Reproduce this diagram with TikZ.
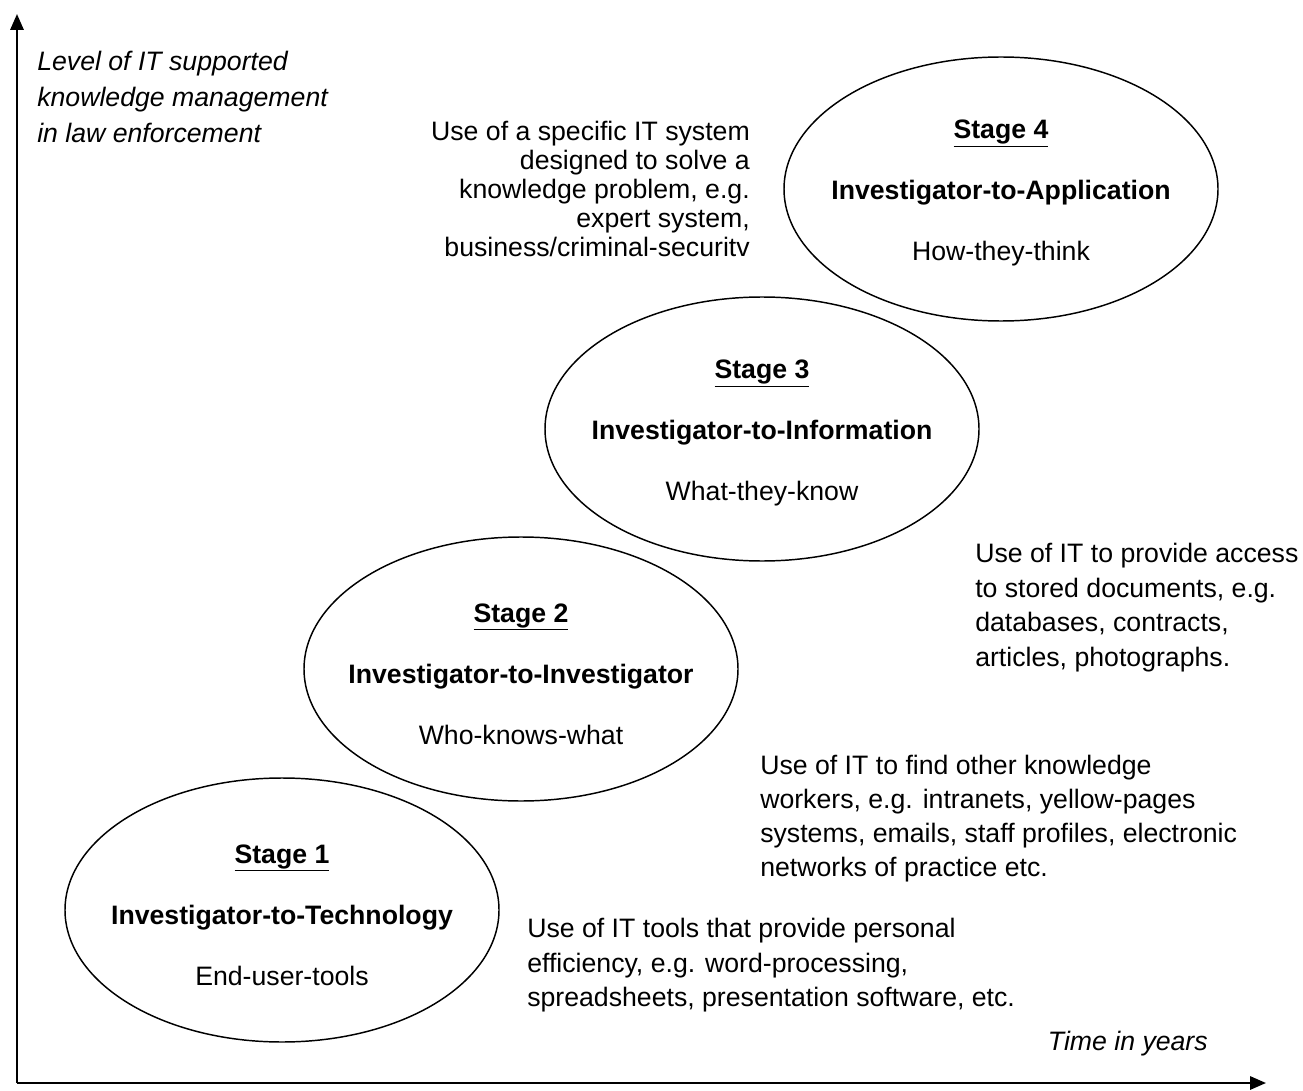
\documentclass[tikz,border=0pt]{standalone}
\usepackage{fontspec}
\setmainfont{Liberation Sans}
\usetikzlibrary{arrows.meta,shapes.geometric}
\tikzset{
  axis/.style={line width=1.6pt,-{Triangle[length=12pt,width=10pt]}},
  stagebox/.style={draw,ellipse,line width=1.1pt,minimum width=325.5pt,minimum height=198pt,inner sep=0pt},
  stagetext/.style={inner sep=0pt,align=center,font=\fontsize{20pt}{45.75pt}\selectfont},
  desc/.style={inner sep=0pt,font=\fontsize{20pt}{25.5pt}\selectfont},
  axlabel/.style={inner sep=0pt,font=\fontsize{20pt}{27pt}\selectfont\itshape}
}
\begin{document}
\begin{tikzpicture}[x=0.75pt,y=-0.75pt]
\useasboundingbox (0,0) rectangle (1303,1091);
\coordinate (O) at (17,1083);
\coordinate (ytop) at (17,14);
\coordinate (xend) at (1266,1083);
\draw[axis] (O) -- (ytop);
\draw[axis] (O) -- (xend);

\node[axlabel,anchor=north west,align=left] (ylab) at (37,51) {Level of IT supported\\knowledge management\\in law enforcement};
\node[axlabel,anchor=north east] (xlab) at (1208,1031) {Time in years};

\node[stagebox] (s1) at (282,910) {};
\node[stagebox] (s2) at (521,669) {};
\node[stagebox] (s3) at (762,429) {};
\node[stagebox] (s4) at (1001,189) {};
\node[stagetext] (t1) at (282,915) {\textbf{\underline{Stage 1}}\\\textbf{Investigator-to-Technology}\\End-user-tools};
\node[stagetext] (t2) at (521,674) {\textbf{\underline{Stage 2}}\\\textbf{Investigator-to-Investigator}\\Who-knows-what};
\node[stagetext] (t3) at (762,433) {\textbf{\underline{Stage 3}}\\\textbf{Investigator-to-Information}\\What-they-know};
\node[stagetext] (t4) at (1001,193) {\textbf{\underline{Stage 4}}\\\textbf{Investigator-to-Application}\\How-they-think};

\node[desc,anchor=north east,align=right,font=\fontsize{20pt}{21.75pt}\selectfont] (d4) at (750,121)
  {Use of a specific IT system\\designed to solve a\\knowledge problem, e.g.\\expert system,\\business/criminal-securitv};
\node[desc,anchor=north west,align=left,font=\fontsize{20pt}{26pt}\selectfont] (d3) at (975,543)
  {Use of IT to provide access\\to stored documents, e.g.\\databases, contracts,\\articles, photographs.};
\node[desc,anchor=north west,align=left] (d2) at (760,755)
  {Use of IT to find other knowledge\\workers, e.g. intranets, yellow-pages\\systems, emails, staff profiles, electronic\\networks of practice etc.};
\node[desc,anchor=north west,align=left,font=\fontsize{20pt}{26pt}\selectfont] (d1) at (527,918)
  {Use of IT tools that provide personal\\efficiency, e.g. word-processing,\\spreadsheets, presentation software, etc.};
\end{tikzpicture}
\end{document}
